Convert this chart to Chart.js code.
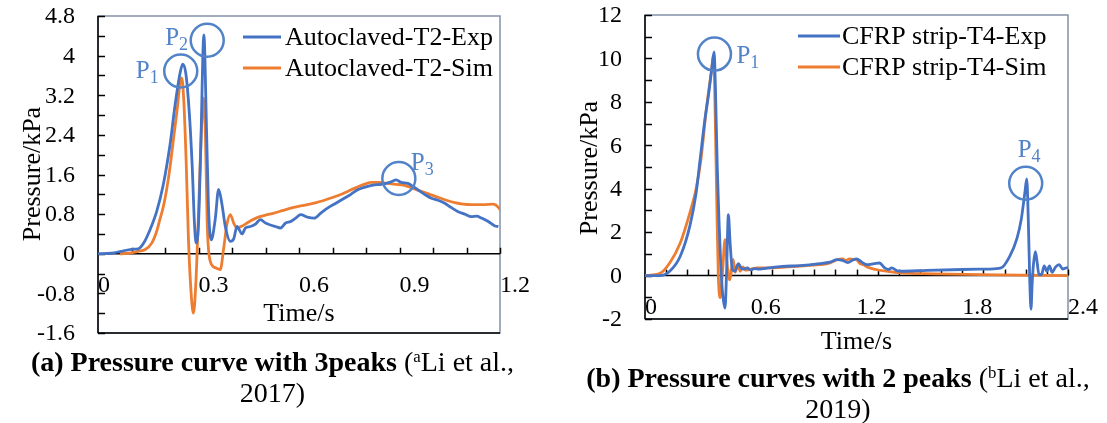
<!DOCTYPE html>
<html>
<head>
<meta charset="utf-8">
<title>Pressure curves</title>
<script src="https://cdn.jsdelivr.net/npm/chart.js@4.4.1/dist/chart.umd.min.js"></script>
<style>
    body { margin: 0; background: #fff; width: 1107px; height: 423px; overflow: hidden; position: relative;
           font-family: 'Liberation Serif', 'Times New Roman', serif; }
    canvas { position: absolute; top: 0; }
    #chartA { left: 0; }
    #chartB { left: 553px; }
    .caption { position: absolute; text-align: center; font-size: 28px; line-height: 31px; color: #000; white-space: nowrap; }
    .caption sup { font-size: 60%; vertical-align: 0.55em; line-height: 0; }
    #capA { left: 0; width: 545px; top: 346px; }
    #capB { left: 560px; width: 556px; top: 362px; }
</style>
</head>
<body>
<canvas id="chartA" width="553" height="423"></canvas>
<canvas id="chartB" width="554" height="423"></canvas>
<div class="caption" id="capA"><b>(a) Pressure curve with 3peaks</b> (<sup>a</sup>Li et al.,<br>2017)</div>
<div class="caption" id="capB"><b>(b) Pressure curves with 2 peaks</b> (<sup>b</sup>Li et al.,<br>2019)</div>
<script>
// ---- (a) Autoclaved T2 ----
const timeAExp = [0, 0.04, 0.07, 0.1, 0.12, 0.135, 0.155, 0.175, 0.195, 0.215, 0.23, 0.245, 0.253, 0.262, 0.272, 0.281, 0.288, 0.293,
    0.3, 0.307, 0.316, 0.324, 0.33, 0.338, 0.35, 0.36, 0.37, 0.38, 0.395, 0.405, 0.415, 0.43, 0.44, 0.455, 0.47, 0.485, 0.5,
    0.515, 0.53, 0.545, 0.56, 0.575, 0.59, 0.605, 0.625, 0.645, 0.665, 0.685, 0.71, 0.735, 0.755, 0.775, 0.8, 0.825, 0.845,
    0.86, 0.875, 0.89, 0.905, 0.925, 0.94, 0.955, 0.975, 0.995, 1.015, 1.035, 1.055, 1.075, 1.095, 1.115, 1.13, 1.145, 1.165,
    1.185, 1.195];
const pressAExp = [0, 0.01, 0.05, 0.09, 0.1, 0.2, 0.48, 0.85, 1.4, 2.2, 3.0, 3.65, 3.83, 3.65, 2.9, 1.8, 0.6, 0.22,
    0.6, 2.2, 4.42, 2.5, 0.9, 0.28, 0.7, 1.3, 1.0, 0.55, 0.25, 0.3, 0.55, 0.4, 0.52, 0.55, 0.6, 0.69, 0.62,
    0.58, 0.55, 0.52, 0.62, 0.65, 0.72, 0.79, 0.74, 0.72, 0.82, 0.92, 1.02, 1.12, 1.2, 1.29, 1.35, 1.39, 1.4,
    1.42, 1.45, 1.49, 1.44, 1.42, 1.36, 1.29, 1.2, 1.12, 1.08, 1.02, 0.93, 0.85, 0.8, 0.75, 0.76, 0.72, 0.65,
    0.56, 0.55];
const timeASim = [0.065, 0.1, 0.12, 0.14, 0.16, 0.175, 0.185, 0.195, 0.205, 0.215, 0.225, 0.237, 0.245, 0.25, 0.256, 0.263,
    0.27, 0.278, 0.285, 0.292, 0.3, 0.308, 0.315, 0.321, 0.326, 0.335, 0.35, 0.365, 0.375, 0.385, 0.395, 0.405, 0.415,
    0.43, 0.445, 0.46, 0.475, 0.5, 0.525, 0.55, 0.575, 0.61, 0.645, 0.68, 0.715, 0.74, 0.765, 0.79, 0.815, 0.84, 0.865,
    0.89, 0.915, 0.94, 0.965, 0.99, 1.015, 1.04, 1.065, 1.09, 1.115, 1.15, 1.18, 1.195, 1.2];
const pressASim = [0, 0.02, 0.05, 0.08, 0.21, 0.45, 0.7, 0.95, 1.3, 1.75, 2.3, 2.95, 3.45, 3.55, 3.1, 1.9,
    0.3, -0.8, -1.2, -0.6, 0.8, 2.4, 3.14, 2.3, 0.6, -0.15, -0.28, -0.32, 0.1, 0.6, 0.79, 0.62, 0.52,
    0.56, 0.62, 0.68, 0.73, 0.78, 0.82, 0.87, 0.92, 0.97, 1.02, 1.09, 1.17, 1.24, 1.32, 1.39, 1.44, 1.44, 1.42,
    1.4, 1.38, 1.32, 1.26, 1.2, 1.14, 1.08, 1.03, 1.0, 0.99, 0.99, 1.0, 0.94, 0.89];
const xLabelsA = [0, 0.3, 0.6, 0.9, 1.2];
const yLabelsA = [-1.6, -0.8, 0, 0.8, 1.6, 2.4, 3.2, 4, 4.8];
const peaksA = [{ name: '1', t: 0.247, p: 3.69 }, { name: '2', t: 0.326, p: 4.31 }, { name: '3', t: 0.898, p: 1.52 }];

// ---- (b) CFRP strip T4 ----
const timeBExp = [0, 0.085, 0.14, 0.2, 0.255, 0.29, 0.312, 0.34, 0.36, 0.38, 0.392, 0.4, 0.41, 0.42, 0.43, 0.44, 0.454,
    0.463, 0.473, 0.483, 0.495, 0.51, 0.53, 0.545, 0.56, 0.58, 0.6, 0.62, 0.65, 0.7, 0.78, 0.88, 0.99, 1.05, 1.09,
    1.12, 1.15, 1.18, 1.2, 1.23, 1.26, 1.3, 1.33, 1.36, 1.38, 1.4, 1.43, 1.45, 1.6, 1.8, 1.95, 2.02, 2.07, 2.11,
    2.135, 2.155, 2.166, 2.175, 2.183, 2.19, 2.197, 2.205, 2.215, 2.225, 2.235, 2.25, 2.265, 2.28, 2.295, 2.31,
    2.33, 2.35, 2.37, 2.39, 2.4];
const pressBExp = [0, 0, 0.2, 0.89, 2.3, 3.8, 5.3, 7.2, 8.3, 9.6, 10.3, 8.5, 5.0, 2.5, 0.5, -0.8, -1.5,
    0.2, 2.8, 1.5, 0.3, 0.2, 0.55, 0.35, 0.3, 0.35, 0.25, 0.32, 0.3, 0.35, 0.42, 0.46, 0.55, 0.62, 0.73,
    0.7, 0.6, 0.72, 0.77, 0.62, 0.5, 0.55, 0.58, 0.35, 0.28, 0.35, 0.22, 0.2, 0.24, 0.28, 0.3, 0.35, 0.9, 1.7,
    2.6, 3.8, 4.45, 2.5, -0.2, -1.55, -0.3, 0.6, 1.1, 0.6, 0.05, 0.05, 0.45, 0.2, 0.45, 0.15,
    0.4, 0.5, 0.3, 0.35, 0.35];
const timeBSim = [0, 0.085, 0.14, 0.2, 0.255, 0.29, 0.315, 0.35, 0.375, 0.39, 0.4, 0.408, 0.416, 0.426, 0.44, 0.454,
    0.465, 0.473, 0.482, 0.5, 0.512, 0.525, 0.54, 0.555, 0.57, 0.6, 0.64, 0.71, 0.86, 0.99, 1.05, 1.09, 1.12, 1.14,
    1.16, 1.18, 1.2, 1.22, 1.24, 1.26, 1.31, 1.37, 1.45, 1.64, 2.0, 2.4];
const pressBSim = [0, 0.1, 0.58, 1.5, 2.9, 4.0, 5.2, 7.8, 9.3, 10.15, 6.6, 3.0, 0, -1.02, 0.2, 1.65,
    0.6, 0.0, -0.2, 0.74, 0.15, 0.5, 0.2, 0.4, 0.25, 0.3, 0.35, 0.35, 0.43, 0.5, 0.58, 0.73, 0.77, 0.7,
    0.77, 0.75, 0.73, 0.55, 0.5, 0.4, 0.28, 0.2, 0.12, 0.08, 0.03, 0.0];
const xLabelsB = [0, 0.6, 1.2, 1.8, 2.4];
const yLabelsB = [-2, 0, 2, 4, 6, 8, 10, 12];
const peaksB = [{ name: '1', t: 0.394, p: 10.2 }, { name: '4', t: 2.16, p: 4.25 }];

const BLUE = '#4472C4';
const ORANGE = '#ED7D31';
const MARK = '#5283c9';
const FONT = "'Liberation Serif', 'Times New Roman', serif";

// where each peak label sits relative to its circle
const labelSpots = {
    A1: [-45, 7], A2: [-42, 5], A3: [12, -8],
    B1: [22, 9], B4: [-8, -26],
};

const pair = (xs, ys) => xs.map((x, i) => ({ x: x, y: ys[i] }));

function axesPlugin(opt) {
    return {
        id: 'excelAxes',
        beforeDatasetsDraw(chart) {
            const { ctx, chartArea: a } = chart;
            const { x, y } = chart.scales;
            const y0 = y.getPixelForValue(0);
            const seg = (x1, y1, x2, y2) => { ctx.beginPath(); ctx.moveTo(x1, y1); ctx.lineTo(x2, y2); ctx.stroke(); };
            ctx.save();
            ctx.strokeStyle = '#8291a8';
            ctx.lineWidth = 1.5;
            ctx.strokeRect(a.left, a.top, a.right - a.left, a.bottom - a.top);

            ctx.strokeStyle = '#000';
            ctx.lineWidth = 1.5;
            seg(a.left, a.top, a.left, a.bottom);
            seg(a.left, a.bottom, a.right, a.bottom);
            seg(a.left, y0, a.right, y0);

            for (let v = y.min; v <= y.max + 1e-9; v += opt.yStep) {
                const py = Math.round(y.getPixelForValue(v)) + 0.5;
                seg(a.left, py, a.left + 7, py);
            }
            for (let v = x.min + opt.xStep; v <= x.max + 1e-9; v += opt.xStep) {
                const px = Math.round(x.getPixelForValue(v)) + 0.5;
                seg(px, y0, px, y0 - 6);
            }

            ctx.fillStyle = '#000';
            ctx.font = '24px ' + FONT;
            ctx.textAlign = 'right';
            ctx.textBaseline = 'middle';
            opt.yLabels.forEach(v => ctx.fillText(String(v), a.left - 23, y.getPixelForValue(v) + 1));
            ctx.textAlign = 'left';
            opt.xLabels.forEach(v => ctx.fillText(String(v), x.getPixelForValue(v), y0 + opt.xLabelGap));

            ctx.font = '26px ' + FONT;
            ctx.textAlign = 'center';
            ctx.fillText('Time/s', (a.left + a.right) / 2, opt.xTitleY);
            ctx.save();
            ctx.translate(opt.yTitleX, opt.yTitleY);
            ctx.rotate(-Math.PI / 2);
            ctx.fillText('Pressure/kPa', 0, 0);
            ctx.restore();
            ctx.restore();
        },
        afterDatasetsDraw(chart) {
            const { ctx } = chart;
            const { x, y } = chart.scales;
            ctx.save();
            // legend
            ctx.font = '26px ' + FONT;
            ctx.textBaseline = 'middle';
            ctx.textAlign = 'left';
            chart.data.datasets.forEach((ds, i) => {
                const ly = opt.legend.y + i * 31;
                ctx.strokeStyle = ds.borderColor;
                ctx.lineWidth = 3;
                ctx.beginPath();
                ctx.moveTo(opt.legend.x1, ly);
                ctx.lineTo(opt.legend.x2, ly);
                ctx.stroke();
                ctx.fillStyle = '#000';
                ctx.fillText(ds.label, opt.legend.tx, ly + 1);
            });
            // peak markers
            opt.peaks.forEach(pk => {
                const cx = x.getPixelForValue(pk.t);
                const cy = y.getPixelForValue(pk.p);
                ctx.strokeStyle = MARK;
                ctx.lineWidth = 2.5;
                ctx.beginPath();
                ctx.arc(cx, cy, 16.5, 0, Math.PI * 2);
                ctx.stroke();
                const [dx, dy] = labelSpots[opt.key + pk.name];
                ctx.fillStyle = MARK;
                ctx.textBaseline = 'alphabetic';
                ctx.font = '25px ' + FONT;
                ctx.fillText('P', cx + dx, cy + dy);
                const w = ctx.measureText('P').width;
                ctx.font = '18px ' + FONT;
                ctx.fillText(pk.name, cx + dx + w, cy + dy + 5);
            });
            ctx.restore();
        }
    };
}

function lineSet(label, data, color) {
    return {
        label: label,
        data: data,
        borderColor: color,
        backgroundColor: color,
        borderWidth: 2.8,
        pointRadius: 0,
        cubicInterpolationMode: 'monotone',
        fill: false,
    };
}

function makeChart(id, datasets, xr, yr, padding, opt) {
    return new Chart(document.getElementById(id), {
        type: 'line',
        data: { datasets: datasets },
        options: {
            responsive: false,
            animation: false,
            events: [],
            layout: { padding: padding },
            plugins: { legend: { display: false }, tooltip: { enabled: false } },
            scales: {
                x: { type: 'linear', min: xr[0], max: xr[1], display: false },
                y: { type: 'linear', min: yr[0], max: yr[1], display: false },
            },
        },
        plugins: [axesPlugin(opt)],
    });
}

makeChart('chartA', [
    lineSet('Autoclaved-T2-Exp', pair(timeAExp, pressAExp), BLUE),
    lineSet('Autoclaved-T2-Sim', pair(timeASim, pressASim), ORANGE),
], [0, 1.2], [-1.6, 4.8], { left: 98, top: 16, right: 53, bottom: 90 }, {
    key: 'A', yStep: 0.4, xStep: 0.1, yLabels: yLabelsA, xLabels: xLabelsA, xLabelGap: 32,
    xTitleY: 314, yTitleX: 33, yTitleY: 174, peaks: peaksA,
    legend: { x1: 243, x2: 281, tx: 285, y: 37 },
});

makeChart('chartB', [
    lineSet('CFRP strip-T4-Exp', pair(timeBExp, pressBExp), BLUE),
    lineSet('CFRP strip-T4-Sim', pair(timeBSim, pressBSim), ORANGE),
], [0, 2.4], [-2, 12], { left: 92, top: 15, right: 39, bottom: 104 }, {
    key: 'B', yStep: 1, xStep: 0.12, yLabels: yLabelsB, xLabels: xLabelsB, xLabelGap: 32,
    xTitleY: 342, yTitleX: 37, yTitleY: 168, peaks: peaksB,
    legend: { x1: 245, x2: 287, tx: 289, y: 36 },
});
</script>
</body>
</html>
